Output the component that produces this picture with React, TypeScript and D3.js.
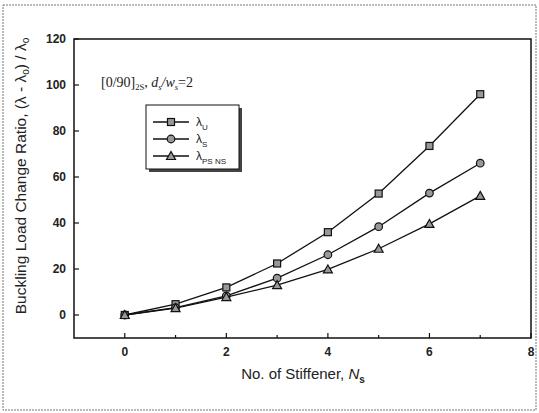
import React from 'react';
import * as d3 from 'd3';

// canvas
const width = 539;
const height = 413;

// plot box
const left = 74;
const right = 531;
const top = 39;
const bottom = 338;

// data
const stiffeners = [0, 1, 2, 3, 4, 5, 6, 7];
const lambdaU = [0, 4.7, 12, 22.4, 36, 52.8, 73.5, 96];
const lambdaS = [0, 3.2, 8.3, 16, 26.2, 38.4, 53, 66];
const lambdaPSNS = [0, 3, 7.8, 13, 19.8, 28.8, 39.6, 51.8];
const xTicks = [0, 2, 4, 6, 8];
const xMinor = [1, 3, 5, 7];
const yTicks = [0, 20, 40, 60, 80, 100, 120];

const x = d3.scaleLinear().domain([-1, 8]).range([left, right]);
const y = d3.scaleLinear().domain([-10, 120]).range([bottom, top]);

const line = d3
  .line<[number, number]>()
  .x((d) => x(d[0]))
  .y((d) => y(d[1]));

const series = [
  { key: 'U', values: lambdaU, shape: 'square' },
  { key: 'S', values: lambdaS, shape: 'circle' },
  { key: 'PS NS', values: lambdaPSNS, shape: 'triangle' },
];

const sans = 'Liberation Sans, Arial, sans-serif';
const serif = 'Liberation Serif, Times New Roman, serif';

const Marker = ({ shape, cx, cy }: { shape: string; cx: number; cy: number }) => {
  if (shape === 'square')
    return <rect x={cx - 3.5} y={cy - 3.5} width={7} height={7} fill="#999" stroke="#111" strokeWidth={1.2} />;
  if (shape === 'circle') return <circle cx={cx} cy={cy} r={3.8} fill="#999" stroke="#111" strokeWidth={1.2} />;
  return (
    <path
      d={`M${cx},${cy - 4.5}L${cx + 4.5},${cy + 3.5}L${cx - 4.5},${cy + 3.5}Z`}
      fill="#999"
      stroke="#111"
      strokeWidth={1.2}
    />
  );
};

const App = () => (
  <svg width={width} height={height} style={{ position: 'absolute', left: 0, top: 0 }}>
    <rect width={width} height={height} fill="#fff" />
    {/* outer frame */}
    <rect x={3} y={5} width={533} height={405} fill="none" stroke="#777" strokeWidth={1} strokeDasharray="2,1" />

    {/* plot box */}
    <rect x={left} y={top} width={right - left} height={bottom - top} fill="none" stroke="#111" strokeWidth={1.5} />

    {/* y ticks */}
    {yTicks.map((t) => (
      <g key={t}>
        <line x1={left} x2={left + 5} y1={y(t)} y2={y(t)} stroke="#111" strokeWidth={1.2} />
        <text x={left - 8} y={y(t) + 4} textAnchor="end" fontFamily={sans} fontSize={12} fontWeight="bold" fill="#222">
          {t}
        </text>
      </g>
    ))}

    {/* x ticks */}
    {xTicks.map((t) => (
      <g key={t}>
        <line x1={x(t)} x2={x(t)} y1={bottom} y2={bottom - 5} stroke="#111" strokeWidth={1.2} />
        <text x={x(t)} y={bottom + 18} textAnchor="middle" fontFamily={sans} fontSize={12} fontWeight="bold" fill="#222">
          {t}
        </text>
      </g>
    ))}
    {xMinor.map((t) => (
      <line key={t} x1={x(t)} x2={x(t)} y1={bottom} y2={bottom - 3} stroke="#111" strokeWidth={1.2} />
    ))}

    {/* axis titles */}
    <text
      transform={`translate(26,176) rotate(-90)`}
      textAnchor="middle"
      fontFamily={sans}
      fontSize={15.5}
      fill="#222"
    >
      Buckling Load Change Ratio, (λ - λ<tspan dy={3} fontSize={10}>o</tspan>
      <tspan dy={-3}>) / λ</tspan>
      <tspan dy={3} fontSize={10}>o</tspan>
    </text>
    <text x={303} y={379} textAnchor="middle" fontFamily={sans} fontSize={15} fill="#222">
      No. of Stiffener, <tspan fontStyle="italic">N</tspan>
      <tspan dy={4} fontSize={10} fontWeight="bold">s</tspan>
    </text>

    {/* series */}
    {series.map((s) => {
      const pts = stiffeners.map((n, i) => [n, s.values[i]] as [number, number]);
      return (
        <g key={s.key}>
          <path d={line(pts) ?? ''} fill="none" stroke="#111" strokeWidth={1.3} />
          {pts.map((p, i) => (
            <Marker key={i} shape={s.shape} cx={x(p[0])} cy={y(p[1])} />
          ))}
        </g>
      );
    })}

    {/* annotation */}
    <text x={101} y={87} fontFamily={serif} fontSize={14} fill="#222">
      [0/90]<tspan dy={3} fontSize={8.5}>2S</tspan>
      <tspan dy={-3}>, </tspan>
      <tspan fontStyle="italic">d</tspan>
      <tspan dy={3} fontSize={8.5} fontStyle="italic">s</tspan>
      <tspan dy={-3} fontStyle="italic">/w</tspan>
      <tspan dy={3} fontSize={8.5} fontStyle="italic">s</tspan>
      <tspan dy={-3}>=2</tspan>
    </text>

    {/* legend */}
    <rect x={149} y={108} width={93} height={64} fill="#444" />
    <rect x={146} y={105} width={93} height={64} fill="#fff" stroke="#111" strokeWidth={1} />
    {series.map((s, i) => {
      const ly = 122 + i * 17;
      return (
        <g key={s.key}>
          <line x1={153} x2={189} y1={ly} y2={ly} stroke="#111" strokeWidth={1.3} />
          <Marker shape={s.shape} cx={171} cy={ly} />
          <text x={196} y={ly + 4} fontFamily={sans} fontSize={12} fill="#222">
            λ<tspan dy={4} fontSize={8}>{s.key}</tspan>
          </text>
        </g>
      );
    })}
  </svg>
);

export default App;
